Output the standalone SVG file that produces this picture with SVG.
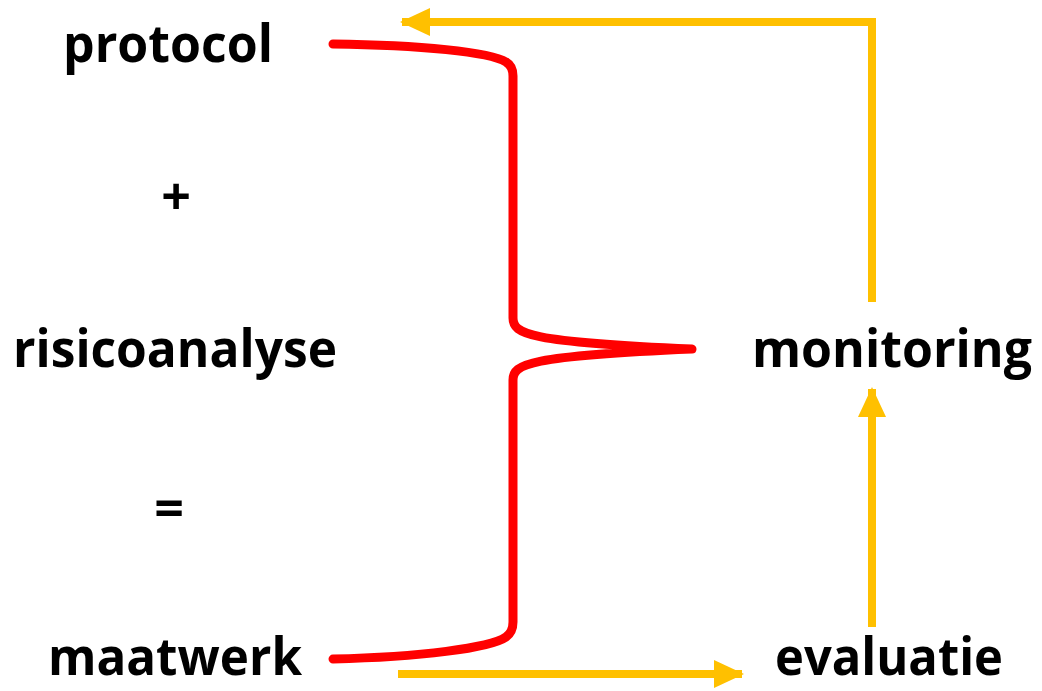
<svg xmlns="http://www.w3.org/2000/svg" width="1042" height="691" viewBox="0 0 1042 691">
  <style>
    .lbl { font-family: "Open Sans", "Liberation Sans", sans-serif; font-weight: 700; font-size: 52px; fill: #000; }
    .brace { fill: none; stroke: #FF0000; stroke-width: 9; stroke-linecap: round; stroke-linejoin: round; }
    .flow { fill: none; stroke: #FFC000; stroke-width: 8; stroke-linejoin: miter; }
  </style>
  <defs>
    <marker id="ah" markerUnits="userSpaceOnUse" markerWidth="30" markerHeight="30" refX="28" refY="14" orient="auto">
      <path d="M0,0 L30,14 L0,28 z" fill="#FFC000"/>
    </marker>
  </defs>
  <rect width="1042" height="691" fill="#fff"/>
  <g id="protocol"><text class="lbl" x="63" y="62" textLength="210" lengthAdjust="spacingAndGlyphs">protocol</text></g>
  <g id="plus"><text class="lbl" x="176" y="215" text-anchor="middle">+</text></g>
  <g id="risicoanalyse"><text class="lbl" x="13" y="367" textLength="324" lengthAdjust="spacingAndGlyphs">risicoanalyse</text></g>
  <g id="equals"><text class="lbl" x="169" y="527" text-anchor="middle">=</text></g>
  <g id="maatwerk"><text class="lbl" x="48" y="675" textLength="254" lengthAdjust="spacingAndGlyphs">maatwerk</text></g>
  <g id="monitoring"><text class="lbl" x="752" y="367" textLength="280" lengthAdjust="spacingAndGlyphs">monitoring</text></g>
  <g id="evaluatie"><text class="lbl" x="775" y="675" textLength="228" lengthAdjust="spacingAndGlyphs">evaluatie</text></g>
  <g id="connectors">
    <path class="brace" d="M333,44 C420,45 490,52 506,62 Q513,66 513,76 L513,318 C513,334 528,342 692,349 C528,356 513,364 513,380 L513,622 Q513,632 506,637 C490,648 420,657 333,659"/>
    <path class="flow" d="M872,302 L872,22 L402,22" marker-end="url(#ah)"/>
    <path class="flow" d="M872,627 L872,389" marker-end="url(#ah)"/>
    <path class="flow" d="M398,674 L742,674" marker-end="url(#ah)"/>
  </g>
</svg>
